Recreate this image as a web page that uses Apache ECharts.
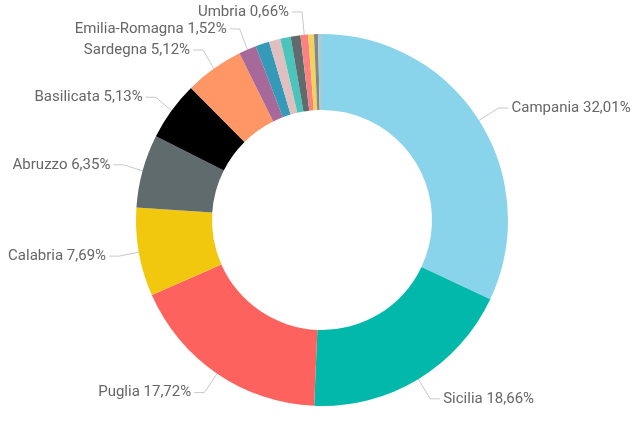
<!DOCTYPE html>
<html>
<head>
<meta charset="utf-8">
<script src="https://cdn.jsdelivr.net/npm/echarts@6/dist/echarts.min.js"></script>
<style>
html,body{margin:0;padding:0;background:#fff;}
#chart{width:635px;height:421px;}
</style>
</head>
<body>
<div id="chart"></div>
<script>
const regions = ['Campania','Sicilia','Puglia','Calabria','Abruzzo','Basilicata','Sardegna','Emilia-Romagna','Lazio','Toscana','Molise','Lombardia','Umbria','Marche','Piemonte','Veneto'];
const shares = [32.01,18.66,17.72,7.69,6.35,5.13,5.12,1.52,1.20,1.00,0.90,0.85,0.66,0.50,0.35,0.34];
const sliceColors = ['#8AD4EB','#01B8AA','#FD625E','#F2C80F','#5F6B6D','#000000','#FE9666','#A66999','#3599B8','#DFBFBF','#4AC5BB','#5F6B6D','#FB8281','#F4D25A','#7F898A','#A9CCD8'];
const labelled = ['Campania','Sicilia','Puglia','Calabria','Abruzzo','Basilicata','Sardegna','Emilia-Romagna','Umbria'];

const data = regions.map((r,i)=>{
  const show = labelled.includes(r);
  return {name:r, value:shares[i], itemStyle:{color:sliceColors[i]},
    label:{show:show}, labelLine:{show:show}};
});

const chart = echarts.init(document.getElementById('chart'));
chart.setOption({
  animation:false,
  series:[{
    type:'pie',
    center:[322,220],
    radius:[110,186],
    startAngle:90,
    clockwise:true,
    data:data,
    label:{
      formatter:p=>p.name+' '+p.value.toFixed(2).replace('.',',')+'%',
      fontFamily:'Roboto',
      fontSize:15,
      color:'#666666',
      distanceToLabelLine:3,
      padding:[4,0,0,0],
      overflow:'none'
    },
    labelLine:{
      length:23,
      length2:10,
      lineStyle:{color:'#c8c8c8',width:1}
    },
    emphasis:{disabled:true}
  }]
});
</script>
</body>
</html>
